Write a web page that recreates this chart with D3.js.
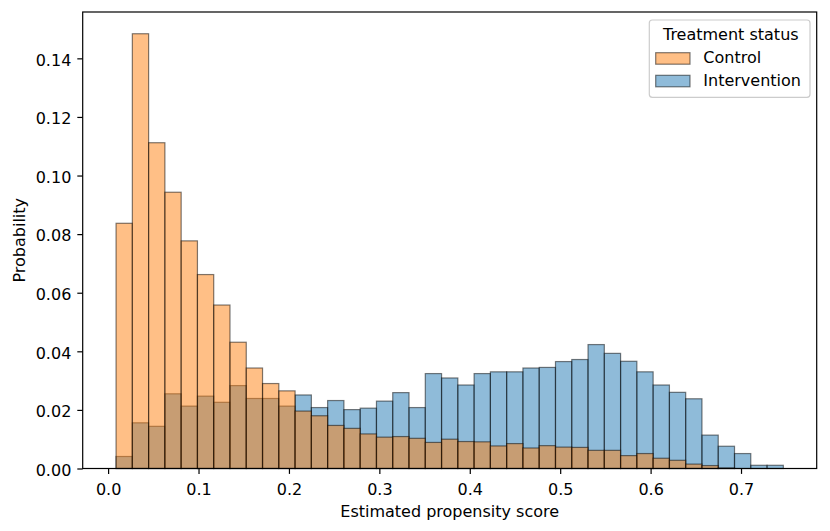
<!DOCTYPE html>
<html>
<head>
<meta charset="utf-8">
<script src="https://cdn.jsdelivr.net/npm/d3@7"></script>
<style>
  html, body { margin: 0; padding: 0; background: #ffffff; }
  svg text { font-family: "DejaVu Sans", sans-serif; fill: #000; }
</style>
</head>
<body>
<svg id="chart" width="830" height="531"></svg>
<script>
// ---- data ----
const binStart = 0.0088;
const binWidth = 0.0180;
const seriesNames = ["Control", "Intervention"];
const controlValues = [
  0.0837, 0.1484, 0.1112, 0.0943, 0.0777, 0.0662, 0.0558, 0.0431, 0.0343, 0.0290,
  0.0265, 0.0196, 0.0180, 0.0147, 0.0137, 0.0118, 0.0107, 0.0109, 0.0103, 0.0089,
  0.0100, 0.0092, 0.0091, 0.0077, 0.0085, 0.0070, 0.0078, 0.0073, 0.0072, 0.0062,
  0.0062, 0.0044, 0.0051, 0.0035, 0.0028, 0.0015, 0.0010, 0.0002, 0.0000, 0.0000,
  0.0000
];
const interventionValues = [
  0.0041, 0.0156, 0.0144, 0.0255, 0.0213, 0.0247, 0.0226, 0.0283, 0.0239, 0.0239,
  0.0213, 0.0251, 0.0208, 0.0232, 0.0201, 0.0206, 0.0230, 0.0259, 0.0208, 0.0324,
  0.0309, 0.0285, 0.0324, 0.0330, 0.0330, 0.0343, 0.0345, 0.0365, 0.0372, 0.0423,
  0.0393, 0.0366, 0.0330, 0.0285, 0.0260, 0.0238, 0.0114, 0.0076, 0.0051, 0.0011,
  0.0011
];
const xTicks = [0.0, 0.1, 0.2, 0.3, 0.4, 0.5, 0.6, 0.7];
const xTickLabels = ["0.0", "0.1", "0.2", "0.3", "0.4", "0.5", "0.6", "0.7"];
const yTicks = [0.00, 0.02, 0.04, 0.06, 0.08, 0.10, 0.12, 0.14];
const yTickLabels = ["0.00", "0.02", "0.04", "0.06", "0.08", "0.10", "0.12", "0.14"];
const xLabel = "Estimated propensity score";
const yLabel = "Probability";
const legendTitle = "Treatment status";

// ---- layout ----
const W = 830, H = 531;
const m = { left: 82.7, right: 13.3, top: 12, bottom: 62.5 };
const pw = W - m.left - m.right, ph = H - m.top - m.bottom;
const colors = { Control: "#ff7f0e", Intervention: "#1f77b4" };
const FS = 16;
const TICK = 5.4;

const nBins = controlValues.length;
const binEnd = binStart + nBins * binWidth;
const pad = 0.05 * (binEnd - binStart);
const yMax = d3.max([...controlValues, ...interventionValues]) * 1.05;

const x = d3.scaleLinear().domain([binStart - pad, binEnd + pad]).range([m.left, m.left + pw]);
const y = d3.scaleLinear().domain([0, yMax]).range([m.top + ph, m.top]);

const svg = d3.select("#chart");

function drawSeries(vals, color) {
  svg.append("g").selectAll("rect")
    .data(vals.map((v, i) => ({ v, i })).filter(d => d.v > 0))
    .join("rect")
    .attr("x", d => x(binStart + d.i * binWidth))
    .attr("width", d => x(binStart + (d.i + 1) * binWidth) - x(binStart + d.i * binWidth))
    .attr("y", d => y(d.v))
    .attr("height", d => y(0) - y(d.v))
    .attr("fill", color)
    .attr("fill-opacity", 0.5)
    .attr("stroke", "#000")
    .attr("stroke-opacity", 0.5)
    .attr("stroke-width", 1.2);
}
// Intervention drawn first, Control on top
drawSeries(interventionValues, colors.Intervention);
drawSeries(controlValues, colors.Control);

// axes
const xAxis = d3.axisBottom(x).tickValues(xTicks).tickFormat((d, i) => xTickLabels[i]).tickSize(TICK);
const yAxis = d3.axisLeft(y).tickValues(yTicks).tickFormat((d, i) => yTickLabels[i]).tickSize(TICK).tickPadding(6);

const gx = svg.append("g").attr("transform", `translate(0,${m.top + ph})`).call(xAxis);
const gy = svg.append("g").attr("transform", `translate(${m.left},0)`).call(yAxis);
[gx, gy].forEach(g => {
  g.select(".domain").remove();
  g.selectAll(".tick line").attr("stroke", "#000").attr("stroke-width", 1.2);
  g.selectAll(".tick text").attr("font-size", FS).attr("font-family", "DejaVu Sans").attr("fill", "#000");
});
gx.selectAll(".tick text").attr("y", 26.3).attr("dy", 0);
gy.selectAll(".tick text").attr("dy", "0.42em");

// frame
svg.append("rect")
  .attr("x", m.left).attr("y", m.top).attr("width", pw).attr("height", ph)
  .attr("fill", "none").attr("stroke", "#000").attr("stroke-width", 1.2);

// axis labels
svg.append("text").attr("x", m.left + pw / 2).attr("y", 516.7)
  .attr("text-anchor", "middle").attr("font-size", FS).text(xLabel);
svg.append("text")
  .attr("transform", `translate(24.5,${m.top + ph / 2}) rotate(-90)`)
  .attr("text-anchor", "middle").attr("font-size", FS).text(yLabel);

// legend
const lg = svg.append("g");
lg.append("rect").attr("x", 649.3).attr("y", 20).attr("width", 160.7).attr("height", 77.3)
  .attr("rx", 3).attr("fill", "#fff").attr("fill-opacity", 0.8)
  .attr("stroke", "#cccccc").attr("stroke-width", 1.2);
lg.append("text").attr("x", 730.8).attr("y", 40.3).attr("text-anchor", "middle")
  .attr("font-size", FS).text(legendTitle);
seriesNames.forEach((name, i) => {
  const yy = 52.7 + i * 22.6;
  lg.append("rect").attr("x", 655.7).attr("y", yy).attr("width", 34.3).attr("height", 11.5)
    .attr("fill", colors[name]).attr("fill-opacity", 0.5)
    .attr("stroke", "#000").attr("stroke-opacity", 0.5).attr("stroke-width", 1.2);
  lg.append("text").attr("x", 703.3).attr("y", yy + 10.5).attr("font-size", FS).text(name);
});
</script>
</body>
</html>
